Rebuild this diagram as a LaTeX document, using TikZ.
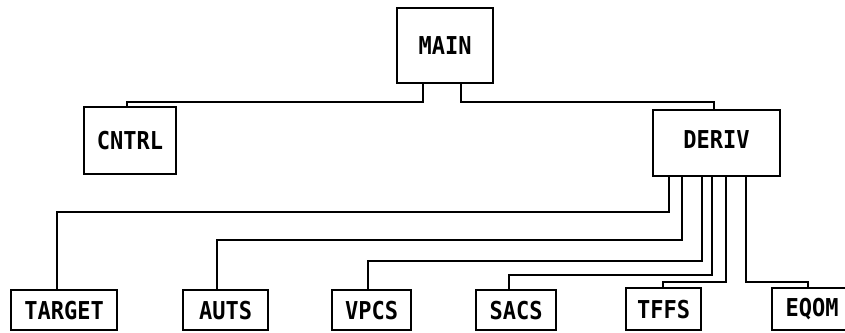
\documentclass[tikz,border=0pt]{standalone}
\usepackage{fontspec}
\setmonofont{DejaVu Sans Mono}
\newcommand{\tall}[1]{\scalebox{1}[1.12]{#1}}
\begin{document}
\begin{tikzpicture}[x=1pt,y=-1pt,
  box/.style={draw, line width=2.2pt, inner sep=0pt, anchor=north west,
    font=\ttfamily\bfseries\fontsize{22}{22}\selectfont},
  link/.style={draw, line width=2.2pt}]
\useasboundingbox (0,0) rectangle (845,332);
\clip (0,0) rectangle (845,332);
\node[box, minimum width=96pt, minimum height=75pt] (main) at (396,7) {\raisebox{-4pt}{\tall{MAIN}}};
\node[box, minimum width=92pt, minimum height=67pt] (cntrl) at (83,106) {\tall{CNTRL}};
\node[box, minimum width=127pt, minimum height=66pt] (deriv) at (652,109) {\raisebox{7pt}{\tall{DERIV}}};
\node[box, minimum width=106pt, minimum height=40pt] (target) at (10,289) {\raisebox{-2pt}{\tall{TARGET}}};
\node[box, minimum width=85pt, minimum height=40pt] (auts) at (182,289) {\raisebox{-2pt}{\tall{AUTS}}};
\node[box, minimum width=79pt, minimum height=40pt] (vpcs) at (331,289) {\raisebox{-2pt}{\tall{VPCS}}};
\node[box, minimum width=80pt, minimum height=40pt] (sacs) at (475,289) {\raisebox{-2pt}{\tall{SACS}}};
\node[box, minimum width=75pt, minimum height=42pt] (tffs) at (625,287) {\raisebox{-2pt}{\tall{TFFS}}};
\node[box, minimum width=80pt, minimum height=42pt] (eqom) at (771,287) {\raisebox{-2pt}{\tall{EQOM}}};
% MAIN connections
\path[link] ([xshift=27pt]main.south west) -- ++(0,18) -| ([xshift=44pt]cntrl.north west);
\path[link] ([xshift=65pt]main.south west) -- ++(0,18) -| ([xshift=62pt]deriv.north west);
% DERIV connections
\path[link] ([xshift=17pt]deriv.south west) -- ++(0,35) -| ([xshift=47pt]target.north west);
\path[link] ([xshift=30pt]deriv.south west) -- ++(0,63) -| ([xshift=35pt]auts.north west);
\path[link] ([xshift=50pt]deriv.south west) -- ++(0,84) -| ([xshift=37pt]vpcs.north west);
\path[link] ([xshift=60pt]deriv.south west) -- ++(0,98) -| ([xshift=34pt]sacs.north west);
\path[link] ([xshift=74pt]deriv.south west) -- ++(0,105) -| ([xshift=38pt]tffs.north west);
\path[link] ([xshift=94pt]deriv.south west) -- ++(0,105) -| ([xshift=37pt]eqom.north west);
\end{tikzpicture}
\end{document}
